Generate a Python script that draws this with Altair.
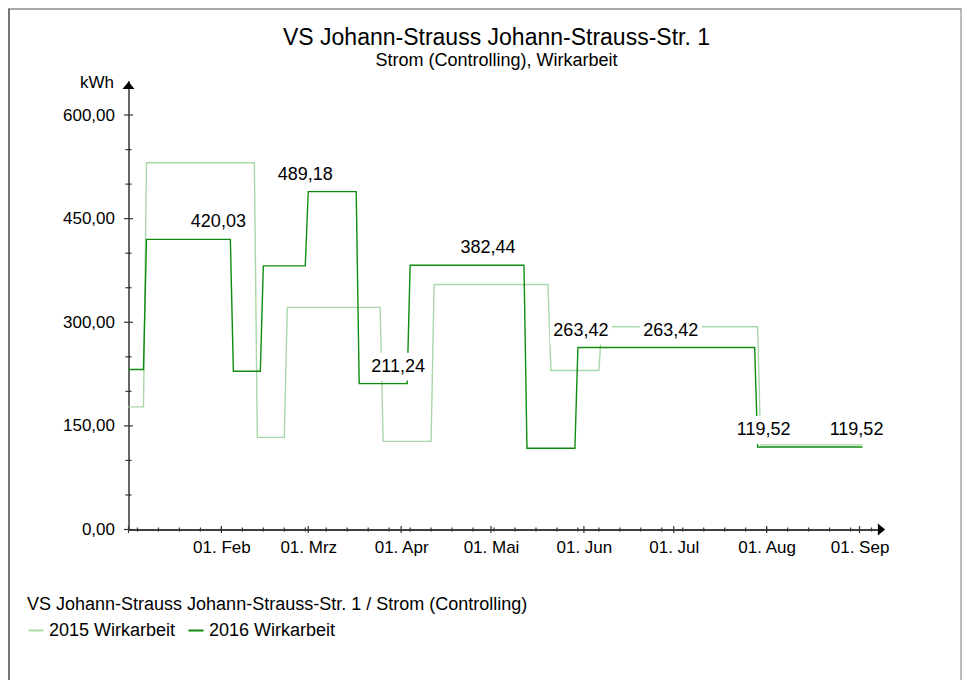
import altair as alt
import pandas as pd

# ---------------- data ----------------
title_text = "VS Johann-Strauss Johann-Strauss-Str. 1"
subtitle_text = "Strom (Controlling), Wirkarbeit"
legend_title = "VS Johann-Strauss Johann-Strauss-Str. 1 / Strom (Controlling)"
series_names = ["2015 Wirkarbeit", "2016 Wirkarbeit"]
series_colors = ["#a9d7a9", "#0f8c0f"]

# 2015 (plotted on the 2016 calendar): start date of each period and its value (kWh)
start_2015 = ["2016-01-01", "2016-01-07", "2016-02-13", "2016-02-23", "2016-03-26",
              "2016-04-12", "2016-05-21", "2016-06-07", "2016-07-30"]
value_2015 = [177.5, 531.0, 133.4, 321.6, 127.6, 354.7, 230.2, 293.5, 122.5]

# 2016: start date of each period and its value (kWh)
start_2016 = ["2016-01-01", "2016-01-07", "2016-02-05", "2016-02-15", "2016-03-01",
              "2016-03-18", "2016-04-04", "2016-05-13", "2016-05-30", "2016-07-29"]
value_2016 = [231.7, 420.03, 229.2, 381.6, 489.18, 211.24, 382.44, 117.6, 263.42, 119.52]
series_end = "2016-09-02"

# value labels (2016 values at each month start)
label_dates = ["2016-02-01", "2016-03-01", "2016-04-01", "2016-05-01",
               "2016-06-01", "2016-07-01", "2016-08-01", "2016-09-01"]
label_values = [420.03, 489.18, 211.24, 382.44, 263.42, 263.42, 119.52, 119.52]

month_names = ["Jan", "Feb", "Mrz", "Apr", "Mai", "Jun", "Jul", "Aug", "Sep", "Okt", "Nov", "Dez"]
x_domain = ["2016-01-01", "2016-09-08"]
y_domain = [0, 645]
y_major = [0, 150, 300, 450, 600]
y_minor = [50, 100, 200, 250, 350, 400, 500, 550]
x_major = ["2016-01-01", "2016-02-01", "2016-03-01", "2016-04-01", "2016-05-01",
           "2016-06-01", "2016-07-01", "2016-08-01", "2016-09-01"]
x_minor = [d.strftime("%Y-%m-%d") for d in pd.date_range("2016-01-04", "2016-09-05", freq="W-MON")]

# ---------------- helpers ----------------
W, H = 752, 449
FONT = "Liberation Sans"


def iso(d):
    return pd.Timestamp(d).strftime("%Y-%m-%dT%H:%M:%SZ")


def ms(d):
    return int(pd.Timestamp(d, tz="UTC").timestamp() * 1000)


def step_rows(starts, values, end, name):
    s = [pd.Timestamp(d) for d in starts]
    rows = []
    for i, (d, v) in enumerate(zip(s, values)):
        nxt = s[i + 1] - pd.Timedelta(days=1) if i + 1 < len(s) else pd.Timestamp(end)
        rows.append({"date": iso(d), "value": v, "series": name})
        rows.append({"date": iso(nxt), "value": v, "series": name})
    return rows


df15 = pd.DataFrame(step_rows(start_2015, value_2015, series_end, series_names[0]))
df16 = pd.DataFrame(step_rows(start_2016, value_2016, series_end, series_names[1]))
df_lab = pd.DataFrame({"date": [iso(d) for d in label_dates], "value": label_values,
                       "text": [f"{v:.2f}".replace(".", ",") for v in label_values]})

x_scale = alt.Scale(type="utc", domain=[ms(x_domain[0]), ms(x_domain[1])])
y_scale = alt.Scale(domain=y_domain)
color_scale = alt.Scale(domain=series_names, range=series_colors)

month_expr = "'01. ' + " + str(month_names) + "[utcmonth(datum.value)]"

x_axis = alt.Axis(values=[ms(d) for d in x_major[1:]], labelExpr=month_expr, grid=False,
                  ticks=False, domainColor="#000000", domainWidth=1.5, labelPadding=10,
                  labelFontSize=17, labelColor="#000000", labelFont=FONT, title=None,
                  labelFlush=False)
y_axis = alt.Axis(values=y_major, labelExpr="replace(format(datum.value, '.2f'), '.', ',')",
                  grid=False, ticks=False, domainColor="#666666", domainWidth=2,
                  labelPadding=14, labelFontSize=17, labelColor="#000000", labelFont=FONT,
                  title="kWh", titleAngle=0, titleX=-15, titleY=2, titleAlign="right",
                  titleBaseline="middle", titleFontSize=17, titleFontWeight="normal",
                  titleColor="#000000", titleFont=FONT)

legend = alt.Legend(title=legend_title, orient="none", legendX=-101.5, legendY=515,
                    direction="horizontal", symbolType="stroke", symbolSize=225,
                    symbolStrokeWidth=2, labelFontSize=18, titleFontSize=18,
                    titleFontWeight="normal", labelColor="#000000", titleColor="#000000",
                    labelFont=FONT, titleFont=FONT, titlePadding=8, columnPadding=8,
                    labelOffset=4, titleLimit=700, labelLimit=300)

base_x = alt.X("date:T", scale=x_scale, axis=x_axis)
base_y = alt.Y("value:Q", scale=y_scale, axis=y_axis)

line15 = alt.Chart(df15).mark_line(strokeWidth=1.4).encode(
    x=base_x, y=base_y,
    color=alt.Color("series:N", scale=color_scale, legend=legend))
line16 = alt.Chart(df16).mark_line(strokeWidth=1.4).encode(
    x=alt.X("date:T", scale=x_scale), y=alt.Y("value:Q", scale=y_scale),
    color=alt.Color("series:N", scale=color_scale, legend=legend))

box_path = "M-1,-0.45L1,-0.45L1,0.45L-1,0.45Z"
boxes = alt.Chart(df_lab).mark_point(shape=box_path, size=62 * 62, filled=True, color="white",
                                     opacity=1, strokeWidth=0, xOffset=-3, yOffset=-17).encode(
    x=alt.X("date:T", scale=x_scale), y=alt.Y("value:Q", scale=y_scale))
texts = alt.Chart(df_lab).mark_text(fontSize=18, font=FONT, color="#000000", dx=-3, dy=-17,
                                    baseline="middle", align="center").encode(
    x=alt.X("date:T", scale=x_scale), y=alt.Y("value:Q", scale=y_scale), text="text:N")

# axis ticks crossing the axis lines
df_ymaj = pd.DataFrame({"v": y_major})
df_ymin = pd.DataFrame({"v": y_minor})
df_xmaj = pd.DataFrame({"d": [iso(d) for d in x_major]})
df_xmin = pd.DataFrame({"d": [iso(d) for d in x_minor]})

ymaj = alt.Chart(df_ymaj).mark_rule(color="#333333", strokeWidth=1.2).encode(
    y=alt.Y("v:Q", scale=y_scale), x=alt.value(-4.5), x2=alt.value(4.5))
ymin = alt.Chart(df_ymin).mark_rule(color="#333333", strokeWidth=1.2).encode(
    y=alt.Y("v:Q", scale=y_scale), x=alt.value(-3), x2=alt.value(3))
xmaj = alt.Chart(df_xmaj).mark_rule(color="#333333", strokeWidth=1.2).encode(
    x=alt.X("d:T", scale=x_scale), y=alt.value(H - 3.5), y2=alt.value(H + 3.5))
xmin = alt.Chart(df_xmin).mark_rule(color="#333333", strokeWidth=1.2).encode(
    x=alt.X("d:T", scale=x_scale), y=alt.value(H - 2), y2=alt.value(H + 2))

one = pd.DataFrame({"k": [0]})

# arrow heads at the ends of the axes
arrow_up = alt.Chart(one).mark_point(
    shape="M0,-0.6L1,0.6L-1,0.6Z", size=144, filled=True, color="#000000", opacity=1,
    yOffset=1.5).encode(x=alt.value(0), y=alt.datum(y_domain[1]))
arrow_right = alt.Chart(one).mark_point(
    shape="M0.6,0L-0.6,-1L-0.6,1Z", size=144, filled=True, color="#000000", opacity=1,
    xOffset=1).encode(x=alt.value(W), y=alt.datum(0))

# chart title and subtitle
title_mark = alt.Chart(one).mark_text(fontSize=23, font=FONT, color="#000000", align="center",
                                      baseline="middle", text=title_text).encode(
    x=alt.value(368), y=alt.value(-43))
subtitle_mark = alt.Chart(one).mark_text(fontSize=18, font=FONT, color="#000000", align="center",
                                         baseline="middle", text=subtitle_text).encode(
    x=alt.value(368), y=alt.value(-19.5))

# outer frame
frame_left = alt.Chart(one).mark_rule(color="#777777", strokeWidth=2).encode(
    x=alt.value(-119.5), y=alt.value(-71.5), y2=alt.value(H + 160))
frame_top = alt.Chart(one).mark_rule(color="#555555", strokeWidth=1).encode(
    x=alt.value(-120.5), x2=alt.value(W + 81), y=alt.value(-71.5))
frame_right = alt.Chart(one).mark_rule(color="#777777", strokeWidth=1).encode(
    x=alt.value(W + 80.5), y=alt.value(-71.5), y2=alt.value(H + 160))

chart = alt.layer(
    frame_left, frame_top, frame_right, title_mark, subtitle_mark,
    line15, line16, boxes, texts,
    ymaj, ymin, xmaj, xmin, arrow_up, arrow_right,
).properties(
    width=W, height=H,
    autosize=alt.AutoSizeParams(type="none"),
    padding={"left": 120.5, "top": 72.5, "right": 81.5, "bottom": 150},
).configure(font=FONT, view=alt.ViewConfig(stroke="transparent", strokeWidth=0))

chart.save("out.html", embed_options={"renderer": "svg", "actions": False})
